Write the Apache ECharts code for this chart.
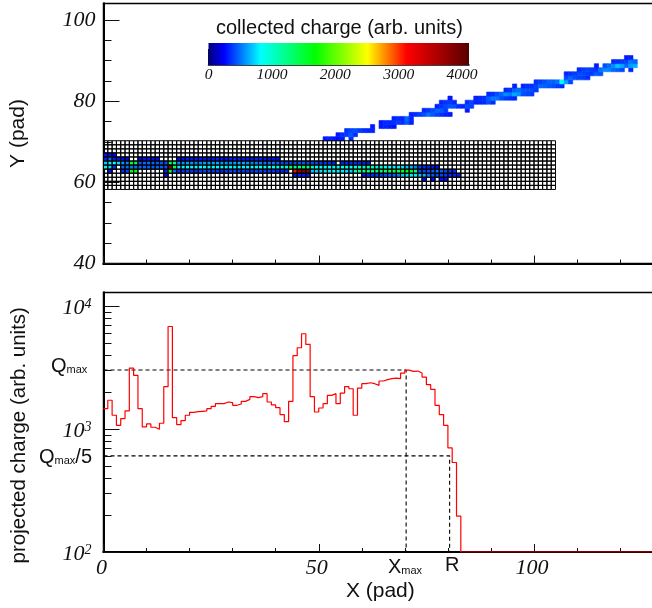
<!DOCTYPE html>
<html><head><meta charset="utf-8">
<style>html,body{margin:0;padding:0;background:#fff;overflow:hidden}#c{width:652px;height:608px}</style>
<script src="https://cdn.jsdelivr.net/npm/echarts@6/dist/echarts.min.js"></script>
</head><body><div id="c"></div>
<script>
// ---------- axis ticks and labels ----------
const xMajorTicks = [0, 50, 100];
const xMinorTicks = [10, 20, 30, 40, 60, 70, 80, 90, 110, 120];
const yMajorTicks = [40, 60, 80, 100];
const yMinorTicks = [45, 50, 55, 65, 70, 75, 85, 90, 95];
const qMajorTicks = [100, 1000, 10000];
const qMinorTicks = [200, 300, 400, 500, 600, 700, 800, 900, 2000, 3000, 4000, 5000, 6000, 7000, 8000, 9000];
const colorbarTicks = [0, 1000, 2000, 3000, 4000];

// ---------- projected charge per pad column, starting at X = 0 ----------
const projectedCharge = [
  1472, 1722, 1300, 1076, 1221, 1409, 3148, 2746, 1472, 1044,
  1105, 1038, 1000, 1119, 2223, 6871, 1245, 1091, 1176, 1300,
  1374, 1390, 1400, 1409, 1472, 1538, 1616, 1616, 1667, 1648,
  1567, 1606, 1688, 1752, 1843, 1807, 1843, 1950, 1667, 1577,
  1500, 1316, 1153, 1688, 3974, 4613, 5998, 4911, 1843, 1382,
  1490, 1616, 1888, 1950, 1616, 1972, 2223, 2138, 1300, 2166,
  2350, 2393, 2350, 2279, 2472, 2535, 2582, 2613, 2582, 2870,
  3034, 2958, 2979, 2870, 2661, 2307, 2113, 1567, 1316, 1076,
  705, 536, 196
];
const projectedFloor = 100;
const xRange = [0, 130];
const qRange = [100, 13000];
const yRange = [40, 104.07];

const qMax = 3034, qMaxFifth = 607, xMaxPad = 70.3, rPad = 80.4;

// ---------- collected charge: [row Y, first pad X, charges...] ----------
const trackCollected = [
  [71, 51, [300, 320, 300, 280, 300]], [71, 57, [350]],
  [72, 54, [300, 350, 380, 450, 350]],
  [73, 56, [350, 400, 420, 380, 350, 330, 320]],
  [74, 62, [300]], [74, 64, [300, 320, 300, 280]],
  [75, 64, [300, 340, 330, 350, 380, 360, 450, 320]],
  [76, 67, [320, 340, 330, 480, 330]],
  [77, 71, [320, 340, 380, 420, 500, 450, 400, 350, 320, 300]],
  [78, 74, [340, 360, 420, 480, 450, 380]], [78, 84, [300]],
  [79, 77, [320, 360, 400, 440, 430, 350]], [79, 83, [330, 420, 380]],
  [80, 78, [330, 360, 380, 340]], [80, 84, [350, 400, 320, 330, 340, 420, 350]],
  [81, 80, [300]], [81, 86, [320, 340, 350, 450, 520, 500, 420, 380, 350, 320]],
  [82, 89, [340, 360, 420, 470, 560, 520, 620, 580, 420, 400, 380]],
  [83, 93, [340, 360, 470, 500, 440, 430, 420, 380]],
  [84, 95, [320]], [84, 97, [330, 350, 360, 400, 480, 470, 440, 420, 380, 340]],
  [85, 100, [360, 380, 420, 470, 460, 500, 850, 620, 400]],
  [86, 107, [420, 480, 430, 400, 380, 350]],
  [87, 107, [330, 350, 380, 420, 400, 380, 380, 450, 430]],
  [88, 110, [340, 380, 400, 380, 360, 500, 560, 550, 480, 450, 400]], [88, 122, [320]],
  [89, 114, [300]], [89, 116, [420, 480, 560, 700, 620, 480, 600, 650]],
  [90, 118, [340, 360, 380, 400, 520, 480]],
  [91, 121, [300, 320]]
];
const chamberCollected = [
  [67, 0, [280, 280, 260]],
  [66, 0, [300, 500, 300, 280, 260, 250]],
  [66, 8, [260, 280, 280, 270, 260]],
  [66, 17, [270, 290, 300, 290, 310, 300, 280, 290, 300, 310, 290, 280, 300, 320, 310, 290, 280, 300, 310, 300, 290, 280, 270, 260]],
  [65, 0, [700, 800, 820, 760, 600, 550]],
  [65, 6, [1500, 1400]],
  [65, 8, [450, 470, 500, 480, 460, 440, 430]],
  [65, 15, [1350, 1250]],
  [65, 17, [560, 580, 600, 590, 570, 560, 580, 600, 620, 610, 590, 580, 570, 600, 620, 610, 590, 560, 540, 530, 520, 510, 500, 480]],
  [65, 41, [420, 400, 390, 420, 430, 450, 440, 420, 400, 380, 360, 350, 330]],
  [65, 55, [320, 340, 350, 340, 330, 320, 300]],
  [64, 0, [800, 750, 350]],
  [64, 4, [480, 500, 520, 510, 490, 480, 470, 460, 480, 460, 440]],
  [64, 15, [3800, 1400]],
  [64, 17, [780, 800, 820, 810, 830, 820, 800, 790, 810, 830, 840, 820, 800, 780, 790, 810, 820, 830, 840, 820, 810, 830, 850, 870, 900, 1000]],
  [64, 43, [1400, 1300, 1250, 1350, 1200, 1050, 900, 880, 860, 850, 870, 900, 880, 860, 840, 900]],
  [64, 59, [1000, 1050, 1100, 1050, 1000, 950, 900, 850, 800, 780, 760, 700, 650, 550]],
  [64, 73, [400, 350, 320, 300, 280]],
  [63, 1, [300]], [63, 4, [350, 400]], [63, 6, [1650, 1600]],
  [63, 14, [320, 1600, 500]],
  [63, 17, [350, 360, 380, 370, 360, 380, 400, 390, 370, 360, 350, 380, 390, 400, 380, 370, 360, 380, 400, 390, 380, 370, 360, 350, 340, 330]],
  [63, 44, [3100, 3800, 3900, 3800]],
  [63, 48, [700, 720, 760, 780, 800, 820, 800, 780, 760, 740]],
  [63, 58, [1100, 1150, 1200, 1200, 1250, 1300, 1350, 1350, 1300, 1400, 1450, 1600, 1650, 1550, 1300]],
  [63, 73, [420, 400, 420, 450, 500, 460, 420, 380, 340]],
  [62, 14, [280]], [62, 44, [300, 320, 310, 300]],
  [62, 60, [300, 320, 350, 380, 400, 420, 450, 480, 520, 700, 750, 800, 780, 700, 650, 520, 450, 420, 400, 380, 350, 320, 300]],
  [61, 74, [280]], [61, 76, [280]], [61, 78, [280, 280]]
];
// pad plane of the read-out chamber, bin rows and columns
const chamberRows = [59, 60, 61, 62, 63, 64, 65, 66, 67, 68, 69, 70];
const chamberColumns = 105;

// colour scale, value fraction -> colour
const colorStops = [
  [0, '#00007a'], [0.06, '#0000ff'], [0.2, '#00ffff'], [0.41, '#00ff00'],
  [0.61, '#ffff00'], [0.76, '#ff0000'], [0.99, '#600000'], [1, '#500000']
];
const colorMax = 4109;

function colorOf(v) {
  const t = Math.min(1, v / colorMax);
  for (let i = 1; i < colorStops.length; i++) {
    if (t <= colorStops[i][0]) {
      const a = colorStops[i - 1], b = colorStops[i];
      return echarts.color.lerp((t - a[0]) / (b[0] - a[0]), [a[1], b[1]]);
    }
  }
  return colorStops[colorStops.length - 1][1];
}
function expand(list) {
  const out = [];
  list.forEach(([row, first, vals]) => vals.forEach((v, i) => out.push([first + i, row, v])));
  return out;
}
const cellData = expand(trackCollected).concat(expand(chamberCollected));
const gridCells = [];
chamberRows.forEach(r => { for (let c = 0; c < chamberColumns; c++) gridCells.push([c, r]); });
const histData = projectedCharge.map((v, i) => [i, v]);
histData.push([projectedCharge.length, projectedFloor], [xRange[1], projectedFloor]);

const serif = 'Liberation Serif', sans = 'Liberation Sans';
const lab = {fontFamily: serif, fontStyle: 'italic', fontSize: 22, color: '#111'};
const rowShift = 0.25;

function cellShape(params, api) {
  const x = api.value(0), y = api.value(1) - rowShift;
  const p0 = api.coord([x, y + 0.5]), p1 = api.coord([x + 1, y - 0.5]);
  return {x: p0[0], y: p0[1], width: p1[0] - p0[0], height: p1[1] - p0[1]};
}
function tickAxis(base, values, len, width) {
  return Object.assign({
    type: 'value', axisLine: {show: true, lineStyle: {color: '#000', width: 2}},
    axisLabel: {show: false}, splitLine: {show: false},
    axisTick: {show: true, inside: true, length: len, customValues: values, lineStyle: {color: '#111', width: width || 1}}
  }, base);
}

const grids = [
  {left: 103.5, top: 3.5, width: 559.65, height: 260, show: true, borderColor: '#000', borderWidth: 1.5, backgroundColor: 'transparent', outerBoundsMode: 'none'},
  {left: 103.5, top: 292.5, width: 559.65, height: 259.5, show: true, borderColor: '#000', borderWidth: 1.5, backgroundColor: 'transparent', outerBoundsMode: 'none'},
  {left: 208.5, top: 43, width: 260.5, height: 22, outerBoundsMode: 'none'}
];

const option = {
  animation: false,
  backgroundColor: '#fff',
  grid: grids,
  xAxis: [
    tickAxis({gridIndex: 0, position: 'bottom', min: xRange[0], max: xRange[1]}, xMajorTicks, 8),
    tickAxis({gridIndex: 0, position: 'bottom', min: xRange[0], max: xRange[1]}, xMinorTicks, 4),
    tickAxis({gridIndex: 1, position: 'bottom', min: xRange[0], max: xRange[1], name: 'X (pad)', nameLocation: 'middle', nameGap: 29,
      nameTextStyle: {fontFamily: sans, fontSize: 21, color: '#111', padding: [0, 6, 0, 0]},
      axisLabel: Object.assign({show: true, margin: 5, customValues: xMajorTicks, padding: [0, 4, 0, 0]}, lab)}, xMajorTicks, 8),
    tickAxis({gridIndex: 1, position: 'bottom', min: xRange[0], max: xRange[1]}, xMinorTicks, 4),
    {type: 'value', gridIndex: 2, position: 'bottom', min: 0, max: colorMax,
      axisLine: {show: true, lineStyle: {color: '#000', width: 1.5}},
      axisTick: {show: true, inside: true, length: 16, customValues: colorbarTicks, lineStyle: {color: '#111', width: 1}},
      splitLine: {show: false},
      axisLabel: {show: true, customValues: colorbarTicks, margin: 2, formatter: v => String(v), fontFamily: serif, fontStyle: 'italic', fontSize: 15.5, color: '#111'}}
  ],
  yAxis: [
    tickAxis({gridIndex: 0, position: 'left', min: yRange[0], max: yRange[1], name: 'Y (pad)', nameLocation: 'middle', nameGap: 75,
      nameTextStyle: {fontFamily: sans, fontSize: 21, color: '#111'},
      axisLabel: Object.assign({show: true, margin: 8, customValues: yMajorTicks}, lab)}, yMajorTicks, 16),
    tickAxis({gridIndex: 0, position: 'left', min: yRange[0], max: yRange[1]}, yMinorTicks, 8),
    tickAxis({gridIndex: 1, position: 'left', type: 'log', logBase: 10, min: qRange[0], max: qRange[1],
      name: 'projected charge (arb. units)', nameLocation: 'middle', nameGap: 74,
      nameTextStyle: {fontFamily: sans, fontSize: 20.5, color: '#111', padding: [0, 26, 0, 0]},
      axisLabel: {show: true, margin: 12, customValues: qMajorTicks, padding: [4, 0, 0, 0],
        formatter: v => '{b|10}{s|' + Math.round(Math.log10(v)) + '}',
        rich: {b: Object.assign({}, lab), s: {fontFamily: serif, fontStyle: 'italic', fontSize: 14, color: '#111', verticalAlign: 'top', padding: [0, 0, 8, 0]}}}
    }, qMajorTicks, 16),
    tickAxis({gridIndex: 1, position: 'left', type: 'log', logBase: 10, min: qRange[0], max: qRange[1]}, qMinorTicks, 8),
    {type: 'value', gridIndex: 2, min: 0, max: 1, show: false}
  ],
  series: [
    {type: 'custom', xAxisIndex: 0, yAxisIndex: 0, data: cellData, coordinateSystem: 'cartesian2d', clip: true, z: 2,
      renderItem(params, api) {
        const c = colorOf(api.value(2));
        return {type: 'rect', shape: cellShape(params, api), style: {fill: c, stroke: c, lineWidth: 0.6}};
      }},
    {type: 'custom', xAxisIndex: 0, yAxisIndex: 0, data: gridCells, z: 3, silent: true,
      renderItem(params, api) {
        return {type: 'rect', shape: cellShape(params, api), style: {fill: 'none', stroke: '#000', lineWidth: 1}};
      }},
    {type: 'line', xAxisIndex: 2, yAxisIndex: 2, step: 'end', data: histData, symbol: 'none', z: 5,
      lineStyle: {color: '#ff0000', width: 1.2}},
    {type: 'line', xAxisIndex: 2, yAxisIndex: 2, data: [[0, qMax], [xMaxPad, qMax], [xMaxPad, qRange[0]]], symbol: 'none', z: 4,
      lineStyle: {color: '#000', width: 1.1, type: [4, 3]}},
    {type: 'line', xAxisIndex: 2, yAxisIndex: 2, data: [[0, qMaxFifth], [rPad, qMaxFifth], [rPad, qRange[0]]], symbol: 'none', z: 4,
      lineStyle: {color: '#000', width: 1.1, type: [4, 3]}},
    {type: 'custom', xAxisIndex: 4, yAxisIndex: 4, data: [[0, colorMax]], z: 1,
      renderItem(params, api) {
        const a = api.coord([api.value(0), 1]), b = api.coord([api.value(1), 0]);
        return {type: 'rect', shape: {x: a[0], y: a[1], width: b[0] - a[0], height: b[1] - a[1]},
          style: {fill: new echarts.graphic.LinearGradient(0, 0, 1, 0, colorStops.map(s => ({offset: s[0], color: s[1]})))}};
      }}
  ],
  graphic: [
    {type: 'text', left: 216, top: 18, style: {text: 'collected charge (arb. units)', fontFamily: sans, fontSize: 20, fill: '#111'}},
    {type: 'text', left: 51, top: 356, style: {text: '{m|Q}{s|max}', rich: {m: {fontFamily: sans, fontSize: 20, fill: '#111'}, s: {fontFamily: sans, fontSize: 11, fill: '#111', padding: [8, 0, 0, 0]}}}},
    {type: 'text', left: 39, top: 447, style: {text: '{m|Q}{s|max}{m|/5}', rich: {m: {fontFamily: sans, fontSize: 20, fill: '#111'}, s: {fontFamily: sans, fontSize: 11, fill: '#111', padding: [8, 0, 0, 0]}}}},
    {type: 'text', left: 388, top: 557, style: {text: '{m|X}{s|max}', rich: {m: {fontFamily: sans, fontSize: 20, fill: '#111'}, s: {fontFamily: sans, fontSize: 11, fill: '#111', padding: [8, 0, 0, 0]}}}},
    {type: 'text', left: 445, top: 555, style: {text: 'R', fontFamily: sans, fontSize: 20, fill: '#111'}}
  ]
};
echarts.init(document.getElementById('c'), null, {renderer: 'canvas'}).setOption(option);
</script></body></html>
